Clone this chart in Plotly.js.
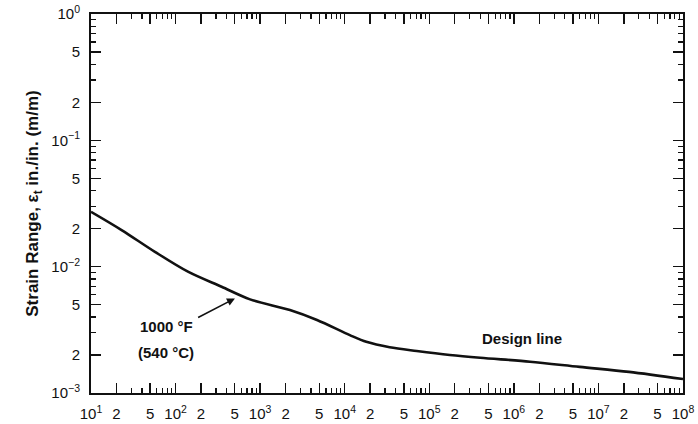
<!DOCTYPE html>
<html><head><meta charset="utf-8">
<script src="https://cdn.plot.ly/plotly-3.0.1.min.js"></script>
<style>html,body{margin:0;padding:0;background:#fff}#chart{width:698px;height:424px}</style>
</head><body><div id="chart"></div>
<script>
const cycles = [10, 23, 57, 140, 350, 760, 2250, 4700, 11500, 18000, 34000, 71000, 175000, 400000, 1.55e6, 6e6, 2.3e7, 1e8];
const strainRange = [0.0272, 0.0195, 0.0131, 0.00912, 0.00693, 0.00551, 0.00453, 0.00378, 0.00287, 0.00254, 0.0023, 0.00215, 0.0020, 0.0019, 0.00177, 0.00161, 0.00147, 0.00129];

const xTickVals = [];
const xTickText = [];
const xMinorVals = [];
for (let e = 1; e <= 8; e++) {
  xTickVals.push(Math.pow(10, e)); xTickText.push('10<sup>' + e + '</sup>');
  if (e < 8) {
    xTickVals.push(2 * Math.pow(10, e)); xTickText.push('2');
    xTickVals.push(5 * Math.pow(10, e)); xTickText.push('5');
    [3, 4, 6, 7, 8, 9].forEach(d => xMinorVals.push(d * Math.pow(10, e)));
  }
}
const yTickVals = [];
const yTickText = [];
const yMinorVals = [];
for (let e = -3; e <= 0; e++) {
  yTickVals.push(Math.pow(10, e)); yTickText.push('10<sup>' + (e === 0 ? '0' : '\u2212' + (-e)) + '</sup>');
  if (e < 0) {
    yTickVals.push(2 * Math.pow(10, e)); yTickText.push('2');
    yTickVals.push(5 * Math.pow(10, e)); yTickText.push('5');
    [3, 4, 6, 7, 8, 9].forEach(d => yMinorVals.push(d * Math.pow(10, e)));
  }
}

const fam = 'Liberation Sans, Arial, sans-serif';
const font = {family: fam, size: 15, color: '#111'};
const annFont = {family: fam, size: 15, color: '#111', weight: 'bold'};

const trace = {
  x: cycles, y: strainRange, type: 'scatter', mode: 'lines',
  line: {color: '#111', width: 2.6, shape: 'spline', smoothing: 0.9},
  hoverinfo: 'skip', showlegend: false
};

const axisCommon = {
  type: 'log', showgrid: false, zeroline: false,
  showline: true, linecolor: '#111', linewidth: 2, mirror: 'ticks',
  ticks: 'inside', ticklen: 10, tickwidth: 1.5, tickcolor: '#111',
  tickmode: 'array', tickfont: font, ticklabelstandoff: 6,
  minor: {tickmode: 'array', ticks: 'inside', ticklen: 5, tickwidth: 1.2, tickcolor: '#111', showgrid: false}
};

const layout = {
  width: 698, height: 424,
  margin: {l: 91, r: 15, t: 14, b: 31},
  paper_bgcolor: '#fff', plot_bgcolor: '#fff',
  font: font,
  xaxis: Object.assign({}, axisCommon, {
    range: [1, 8], tickvals: xTickVals, ticktext: xTickText,
    minor: Object.assign({}, axisCommon.minor, {tickvals: xMinorVals})
  }),
  yaxis: Object.assign({}, axisCommon, {
    range: [-3, 0], tickvals: yTickVals, ticktext: yTickText,
    minor: Object.assign({}, axisCommon.minor, {tickvals: yMinorVals}),
    title: {text: 'Strain Range, \u03b5<sub>t</sub> in./in. (m/m)', font: {family: fam, size: 17, color: '#111', weight: 'bold'}, standoff: 8}
  }),
  annotations: [
    {x: 2.702, y: -2.251, ax: 2.249, ay: -2.409, xref: 'x', yref: 'y', axref: 'x', ayref: 'y',
     text: '', showarrow: true, arrowhead: 2, arrowsize: 1, arrowwidth: 1.6, arrowcolor: '#111'},
    {x: 1.887, y: -2.47, xref: 'x', yref: 'y', text: '1000 \u00b0F', showarrow: false, font: annFont},
    {x: 1.887, y: -2.676, xref: 'x', yref: 'y', text: '(540 \u00b0C)', showarrow: false, font: annFont},
    {x: 6.094, y: -2.565, xref: 'x', yref: 'y', text: 'Design line', showarrow: false, font: annFont}
  ]
};

Plotly.newPlot('chart', [trace], layout, {displayModeBar: false, staticPlot: true});
</script>
</body></html>
